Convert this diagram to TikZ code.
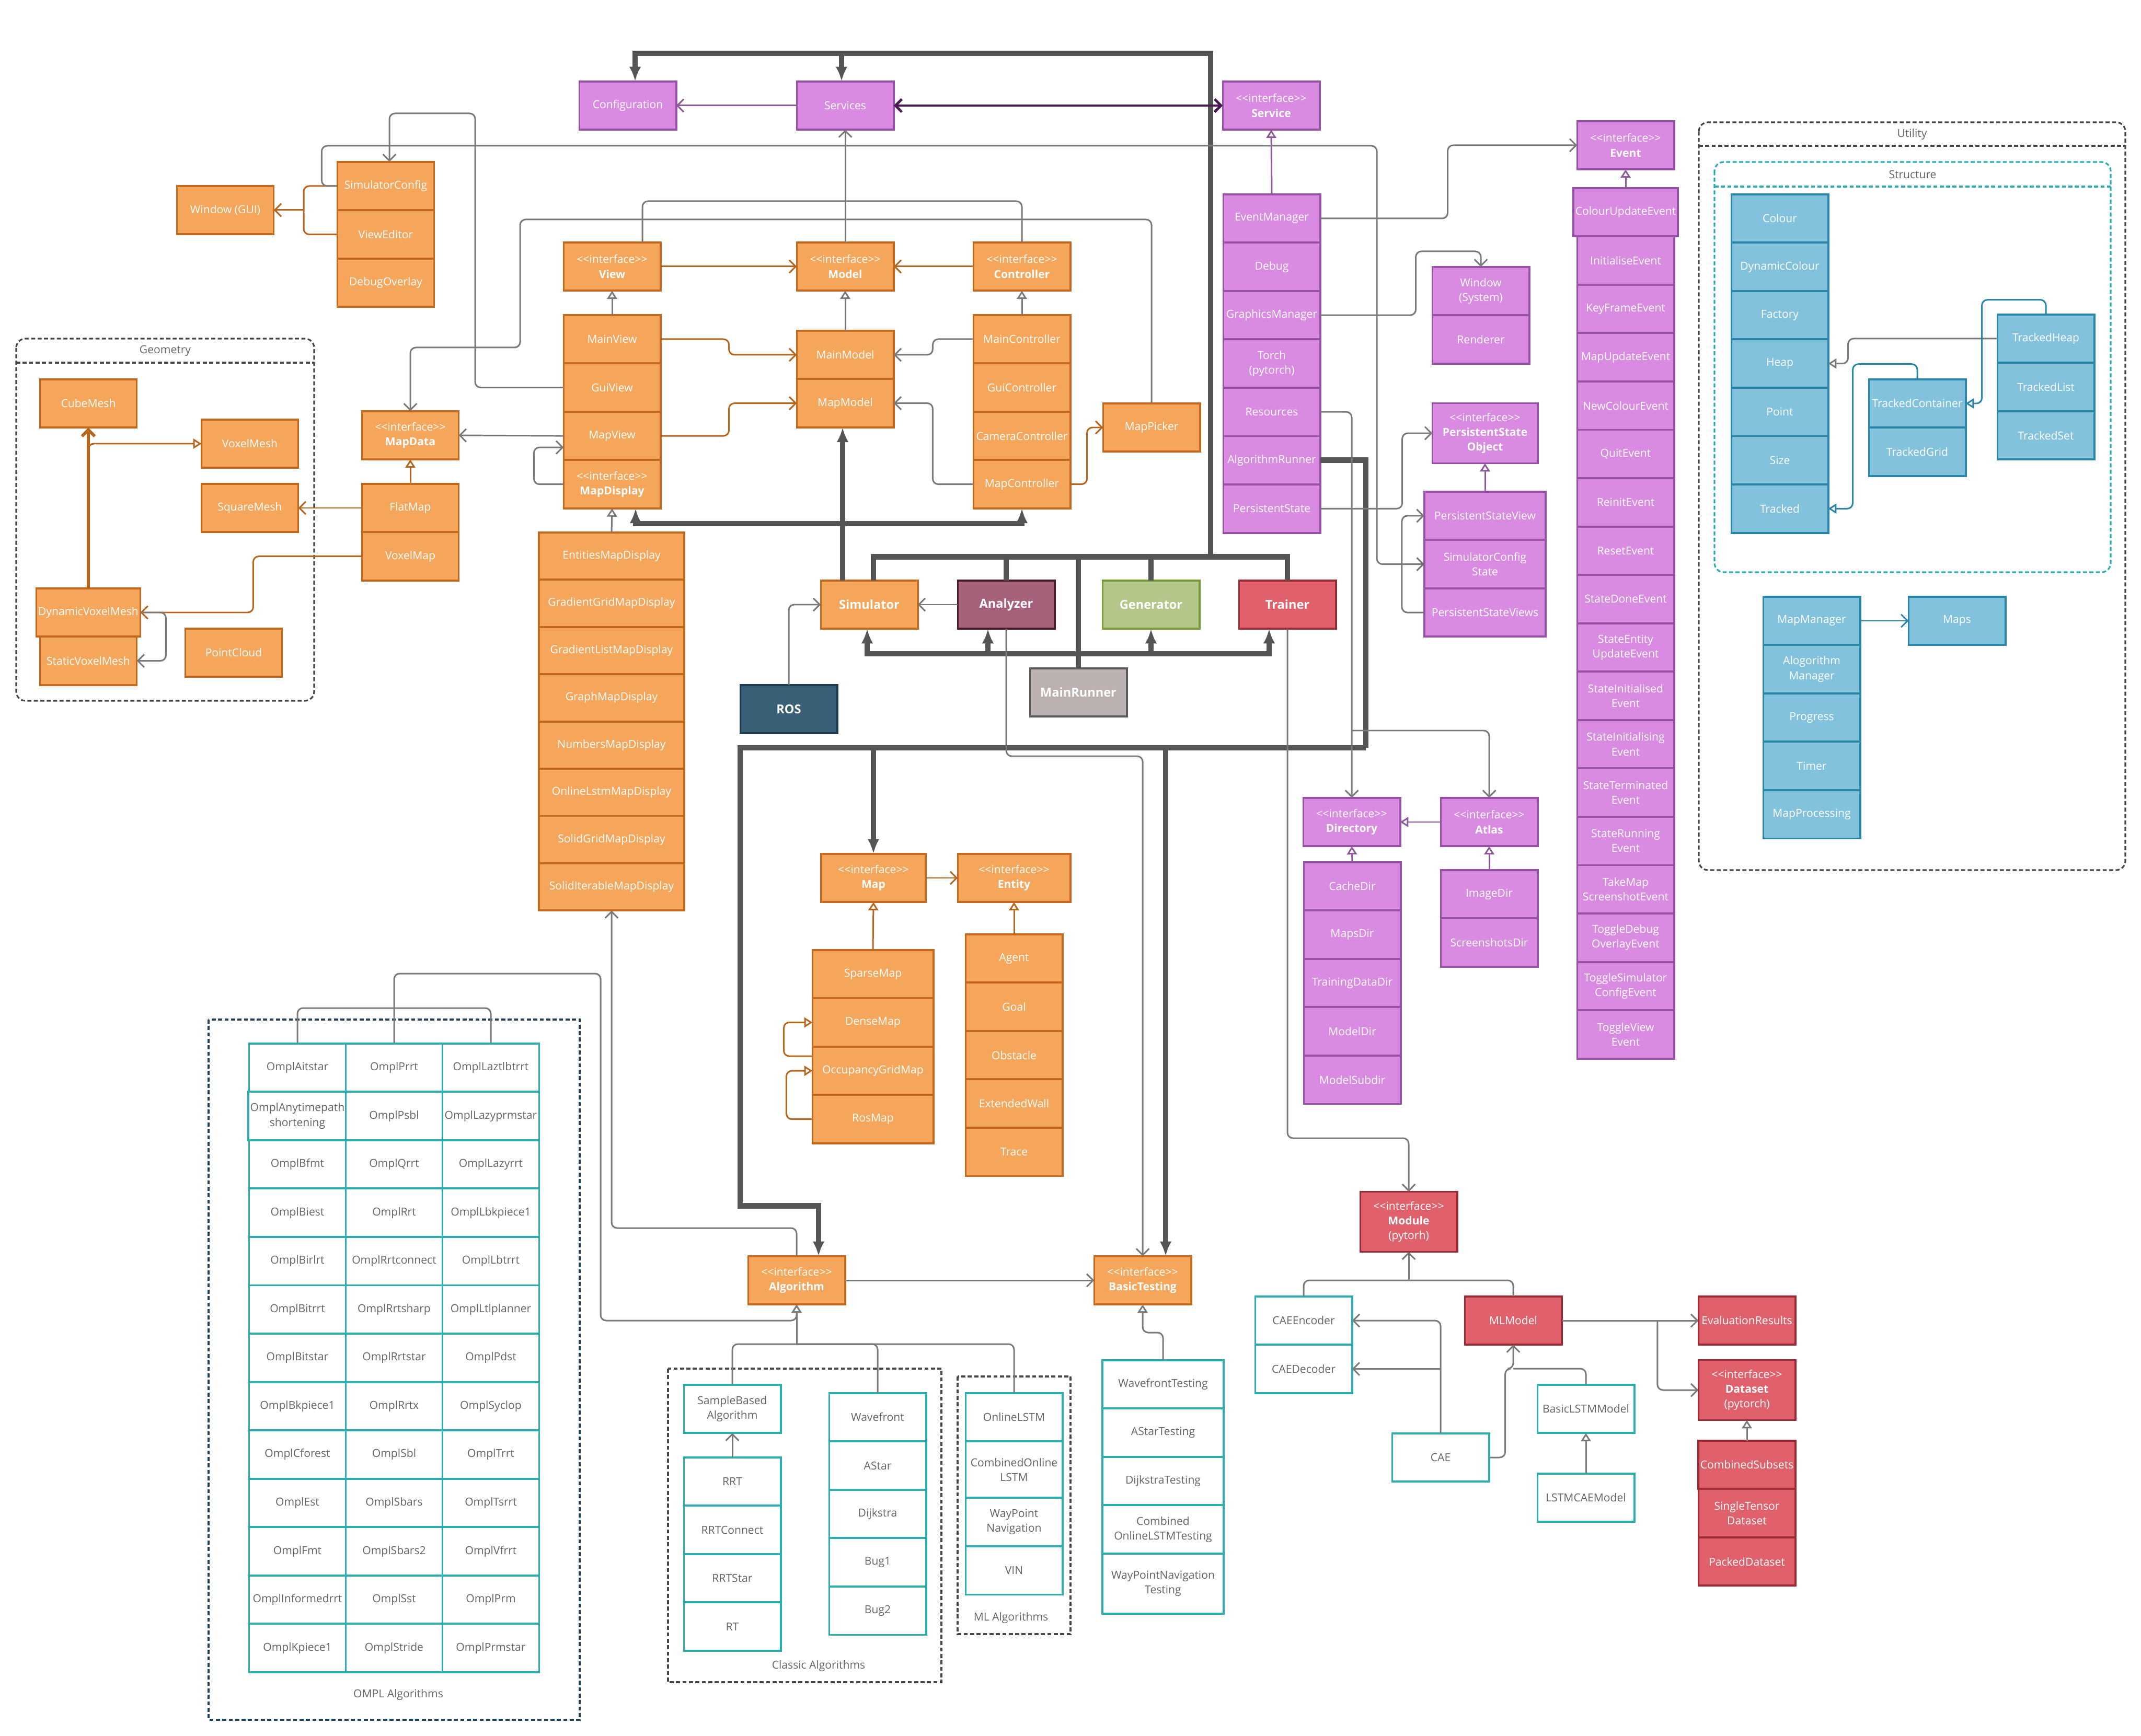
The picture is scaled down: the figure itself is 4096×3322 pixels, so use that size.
\documentclass[tikz,border=0pt]{standalone}
\usepackage{fontspec}
\setmainfont{Open Sans}
\usetikzlibrary{positioning, calc, arrows.meta}
\definecolor{clOrange}  {RGB}{245,166, 91}
\definecolor{clOrangeBd}{RGB}{196,104, 30}
\definecolor{clPurple}  {RGB}{216,139,224}
\definecolor{clPurpleBd}{RGB}{150, 80,165}
\definecolor{clBlue}    {RGB}{130,194,220}
\definecolor{clBlueBd}  {RGB}{ 42,134,168}
\definecolor{clRed}     {RGB}{224, 97,108}
\definecolor{clRedBd}   {RGB}{155, 42, 53}
\definecolor{clTeal}    {RGB}{ 42,174,176}
\definecolor{clPlum}    {RGB}{165, 96,122}
\definecolor{clPlumBd}  {RGB}{ 74, 26, 42}
\definecolor{clSage}    {RGB}{179,199,138}
\definecolor{clSageBd}  {RGB}{122,154, 58}
\definecolor{clStone}   {RGB}{187,177,177}
\definecolor{clStoneBd} {RGB}{ 90, 90, 90}
\definecolor{clNavy}    {RGB}{ 58, 96,120}
\definecolor{clNavyBd}  {RGB}{ 31, 58, 80}
\definecolor{clLine}    {RGB}{122,122,122}
\definecolor{clBus}     {RGB}{ 85, 85, 85}
\definecolor{clOrLine}  {RGB}{184,101, 30}
\definecolor{clPuLine}  {RGB}{142, 90,156}
\definecolor{clPuDark}  {RGB}{ 74, 26, 80}
\definecolor{clText}    {RGB}{100,100,100}
\definecolor{clGrpBd}   {RGB}{ 70, 70, 70}
\definecolor{clOmplBd}  {RGB}{ 31, 63, 95}
\newcommand{\cellfont}{\fontsize{6pt}{8pt}\selectfont}
\newcommand{\bigfont}{\fontsize{6.7pt}{8pt}\selectfont\bfseries}
\newcommand{\iface}[1]{<\kern0pt<interface>\kern0pt>\\\textbf{#1}}
\tikzset{
  cell/.style={
    rectangle, draw, line width=1.1pt, align=center, font=\cellfont,
    minimum width=1.85cm, minimum height=0.925cm,
    inner sep=1pt, outer sep=0pt, text=white
  },
  orbox/.style={cell, fill=clOrange, draw=clOrangeBd},
  pubox/.style={cell, fill=clPurple, draw=clPurpleBd},
  blbox/.style={cell, fill=clBlue, draw=clBlueBd},
  rdbox/.style={cell, fill=clRed, draw=clRedBd},
  tlbox/.style={cell, fill=white, draw=clTeal, text=clText},
  bigbox/.style={cell, font=\bigfont},
  grp/.style={draw=clGrpBd, line width=0.9pt, dash pattern=on 2.2pt off 1.3pt},
  grplbl/.style={font=\cellfont, text=clText, inner sep=0pt},
  ln/.style={line width=0.85pt, draw=clLine, rounded corners=3pt},
  assoc/.style={ln, -{Straight Barb[length=3.5pt, width=7pt]}},
  inherit/.style={ln, -{Triangle[length=4.5pt, width=5.5pt, fill=white]}},
  orln/.style={ln, draw=clOrLine},
  orassoc/.style={orln, -{Straight Barb[length=3.5pt, width=7pt]}},
  orinherit/.style={orln, -{Triangle[length=4.5pt, width=5.5pt, fill=white]}},
  puassoc/.style={ln, draw=clPuLine, -{Straight Barb[length=3.5pt, width=7pt]}},
  puinherit/.style={ln, draw=clPuLine, -{Triangle[length=4.5pt, width=5.5pt, fill=white]}},
  pubiarr/.style={ln, draw=clPuDark, line width=1.4pt,
    {Straight Barb[length=3.5pt, width=7pt]}-{Straight Barb[length=3.5pt, width=7pt]}},
  blassoc/.style={ln, draw=clBlueBd, -{Straight Barb[length=3.5pt, width=7pt]}},
  blinherit/.style={ln, draw=clBlueBd, -{Triangle[length=4.5pt, width=5.5pt, fill=white]}},
  bus/.style={line width=3pt, draw=clBus},
  busarr/.style={bus, -{Latex[length=8pt, width=6.5pt]}}
}
\begin{document}
\begin{tikzpicture}[x=0.01cm, y=-0.01cm, node distance=0pt]
\useasboundingbox (0,0) rectangle (4096,3322);

    % ============================================================
    % GROUP FRAMES
    % ============================================================
    \draw [grp, rounded corners=5pt] (31,648) rectangle (601,1341);
    \draw [grp] (31,694) -- (601,694);
    \node (geolbl) [grplbl] at (316,671) {Geometry};

    \draw [grp, rounded corners=5pt] (3250,234) rectangle (4066,1665);
    \draw [grp] (3250,279) -- (4066,279);
    \node (utillbl) [grplbl] at (3658,257) {Utility};

    \draw [grp, draw=clTeal, rounded corners=5pt] (3280,310) rectangle (4038,1095);
    \draw [grp, draw=clTeal] (3280,357) -- (4038,357);
    \node (structlbl) [grplbl] at (3659,334) {Structure};

    \draw [grp, draw=clOmplBd] (399,1951) rectangle (1109,3291);
    \node (ompllbl) [grplbl] at (762,3243) {OMPL Algorithms};

    \draw [grp] (1278,2619) rectangle (1801,3219);
    \node (classiclbl) [grplbl] at (1566,3188) {Classic Algorithms};

    \draw [grp] (1832,2634) rectangle (2048,3127);
    \node (mllbl) [grplbl] at (1934,3096) {ML Algorithms};

    % ============================================================
    % SERVICES (TOP ROW AND PURPLE COLUMNS)
    % ============================================================
    \node (config) [pubox] at (1201,202) {Configuration};
    \node (services) [pubox] at (1617,202) {Services};
    \node (service) [pubox] at (2432,202) {\iface{Service}};

    \node (evmgr) [pubox] at (2433,418) {EventManager};
    \node (debug) [pubox, below=of evmgr] {Debug};
    \node (gfxmgr) [pubox, below=of debug] {GraphicsManager};
    \node (torch) [pubox, below=of gfxmgr] {Torch\\(pytorch)};
    \node (resources) [pubox, below=of torch] {Resources};
    \node (algrun) [pubox, below=of resources] {AlgorithmRunner};
    \node (pstate) [pubox, below=of algrun] {PersistentState};

    \node (winsys) [pubox] at (2833,557) {Window\\(System)};
    \node (renderer) [pubox, below=of winsys] {Renderer};

    \node (pso) [pubox, minimum width=2.01cm, minimum height=1.15cm] at (2841,829) {%
      <\kern0pt<interface>\kern0pt>\\\textbf{PersistentState}\\\textbf{Object}};
    \node (psview) [pubox, minimum width=2.32cm] at (2841,987) {PersistentStateView};
    \node (scstate) [pubox, minimum width=2.32cm, below=of psview] {SimulatorConfig\\State};
    \node (psviews) [pubox, minimum width=2.32cm, below=of scstate] {PersistentStateViews};

    \node (dir) [pubox] at (2586,1573) {\iface{Directory}};
    \node (atlas) [pubox] at (2849,1573) {\iface{Atlas}};
    \node (cachedir) [pubox] at (2587,1696) {CacheDir};
    \node (mapsdir) [pubox, below=of cachedir] {MapsDir};
    \node (traindir) [pubox, below=of mapsdir] {TrainingDataDir};
    \node (modeldir) [pubox, below=of traindir] {ModelDir};
    \node (modelsub) [pubox, below=of modeldir] {ModelSubdir};
    \node (imagedir) [pubox] at (2849,1711) {ImageDir};
    \node (shotsdir) [pubox, below=of imagedir] {ScreenshotsDir};

    % ============================================================
    % EVENTS
    % ============================================================
    \node (event) [pubox] at (3110,278) {\iface{Event}};
    \node (ev1) [pubox] at (3110,406) {ColourUpdateEvent};
    \node (ev2) [pubox, below=of ev1] {InitialiseEvent};
    \node (ev3) [pubox, below=of ev2] {KeyFrameEvent};
    \node (ev4) [pubox, below=of ev3] {MapUpdateEvent};
    \node (ev5) [pubox, below=of ev4] {NewColourEvent};
    \node (ev6) [pubox, below=of ev5] {QuitEvent};
    \node (ev7) [pubox, below=of ev6] {ReinitEvent};
    \node (ev8) [pubox, below=of ev7] {ResetEvent};
    \node (ev9) [pubox, below=of ev8] {StateDoneEvent};
    \node (ev10) [pubox, below=of ev9] {StateEntity\\UpdateEvent};
    \node (ev11) [pubox, below=of ev10] {StateInitialised\\Event};
    \node (ev12) [pubox, below=of ev11] {StateInitialising\\Event};
    \node (ev13) [pubox, below=of ev12] {StateTerminated\\Event};
    \node (ev14) [pubox, below=of ev13] {StateRunning\\Event};
    \node (ev15) [pubox, below=of ev14] {TakeMap\\ScreenshotEvent};
    \node (ev16) [pubox, below=of ev15] {ToggleDebug\\OverlayEvent};
    \node (ev17) [pubox, below=of ev16] {ToggleSimulator\\ConfigEvent};
    \node (ev18) [pubox, below=of ev17] {ToggleView\\Event};

    % ============================================================
    % UTILITY
    % ============================================================
    \node (colour) [blbox] at (3405,418) {Colour};
    \node (dyncolour) [blbox, below=of colour] {DynamicColour};
    \node (factory) [blbox, below=of dyncolour] {Factory};
    \node (heap) [blbox, below=of factory] {Heap};
    \node (point) [blbox, below=of heap] {Point};
    \node (size) [blbox, below=of point] {Size};
    \node (tracked) [blbox, below=of size] {Tracked};

    \node (tcont) [blbox] at (3668,772) {TrackedContainer};
    \node (tgrid) [blbox, below=of tcont] {TrackedGrid};
    \node (theap) [blbox] at (3914,648) {TrackedHeap};
    \node (tlist) [blbox, below=of theap] {TrackedList};
    \node (tset) [blbox, below=of tlist] {TrackedSet};

    \node (mapmgr) [blbox] at (3466,1188) {MapManager};
    \node (algmgr) [blbox, below=of mapmgr] {Alogorithm\\Manager};
    \node (progress) [blbox, below=of algmgr] {Progress};
    \node (timer) [blbox, below=of progress] {Timer};
    \node (mapproc) [blbox, below=of timer] {MapProcessing};
    \node (maps) [blbox] at (3744,1188) {Maps};

    % ============================================================
    % GUI, VIEW / MODEL / CONTROLLER
    % ============================================================
    \node (win) [orbox] at (431,402) {Window (GUI)};
    \node (simcfg) [orbox] at (738,356) {SimulatorConfig};
    \node (vedit) [orbox, below=of simcfg] {ViewEditor};
    \node (dbgov) [orbox, below=of vedit] {DebugOverlay};

    \node (view) [orbox] at (1171,510) {\iface{View}};
    \node (model) [orbox] at (1617,510) {\iface{Model}};
    \node (ctrl) [orbox] at (1955,510) {\iface{Controller}};

    \node (mainview) [orbox] at (1171,649) {MainView};
    \node (guiview) [orbox, below=of mainview] {GuiView};
    \node (mapview) [orbox, below=of guiview] {MapView};
    \node (mapdisp) [orbox, below=of mapview] {\iface{MapDisplay}};

    \node (mainmodel) [orbox] at (1617,679) {MainModel};
    \node (mapmodel) [orbox, below=of mainmodel] {MapModel};

    \node (mainctrl) [orbox] at (1955,649) {MainController};
    \node (guictrl) [orbox, below=of mainctrl] {GuiController};
    \node (camctrl) [orbox, below=of guictrl] {CameraController};
    \node (mapctrl) [orbox, below=of camctrl] {MapController};
    \node (mappicker) [orbox] at (2203,818) {MapPicker};

    \node (mapdata) [orbox] at (785,833) {\iface{MapData}};
    \node (flatmap) [orbox] at (785,972) {FlatMap};
    \node (voxelmap) [orbox, below=of flatmap] {VoxelMap};

    \node (entities) [orbox, minimum width=2.77cm, minimum height=0.904cm] at (1170,1064) {EntitiesMapDisplay};
    \node (gradgrid) [orbox, minimum width=2.77cm, minimum height=0.904cm, below=of entities] {GradientGridMapDisplay};
    \node (gradlist) [orbox, minimum width=2.77cm, minimum height=0.904cm, below=of gradgrid] {GradientListMapDisplay};
    \node (graphmd) [orbox, minimum width=2.77cm, minimum height=0.904cm, below=of gradlist] {GraphMapDisplay};
    \node (numbers) [orbox, minimum width=2.77cm, minimum height=0.904cm, below=of graphmd] {NumbersMapDisplay};
    \node (onlinemd) [orbox, minimum width=2.77cm, minimum height=0.904cm, below=of numbers] {OnlineLstmMapDisplay};
    \node (solidgrid) [orbox, minimum width=2.77cm, minimum height=0.904cm, below=of onlinemd] {SolidGridMapDisplay};
    \node (soliditer) [orbox, minimum width=2.77cm, minimum height=0.904cm, below=of solidgrid] {SolidIterableMapDisplay};

    % geometry
    \node (cubemesh) [orbox] at (169,772) {CubeMesh};
    \node (voxelmesh) [orbox] at (478,849) {VoxelMesh};
    \node (squaremesh) [orbox] at (478,972) {SquareMesh};
    \node (dynvox) [orbox] at (169,1172) {DynamicVoxelMesh};
    \node (statvox) [orbox, below=of dynvox] {StaticVoxelMesh};
    \node (pointcloud) [orbox] at (447,1249) {PointCloud};

    % ============================================================
    % RUNNERS
    % ============================================================
    \node (sim) [bigbox, fill=clOrange, draw=clOrangeBd] at (1663,1157) {Simulator};
    \node (analyzer) [bigbox, fill=clPlum, draw=clPlumBd] at (1925,1157) {Analyzer};
    \node (generator) [bigbox, fill=clSage, draw=clSageBd] at (2202,1157) {Generator};
    \node (trainer) [bigbox, fill=clRed, draw=clRedBd] at (2463,1157) {Trainer};
    \node (ros) [bigbox, fill=clNavy, draw=clNavyBd] at (1509,1357) {ROS};
    \node (mainrunner) [bigbox, fill=clStone, draw=clStoneBd] at (2063,1325) {MainRunner};

    % ============================================================
    % MAP AND ENTITIES
    % ============================================================
    \node (mapif) [orbox, minimum width=2.0cm] at (1671,1680) {\iface{Map}};
    \node (entity) [orbox, minimum width=2.15cm] at (1940,1680) {\iface{Entity}};
    \node (sparsemap) [orbox, minimum width=2.31cm] at (1670,1864) {SparseMap};
    \node (densemap) [orbox, minimum width=2.31cm, below=of sparsemap] {DenseMap};
    \node (occgrid) [orbox, minimum width=2.31cm, below=of densemap] {OccupancyGridMap};
    \node (rosmap) [orbox, minimum width=2.31cm, below=of occgrid] {RosMap};
    \node (agent) [orbox] at (1940,1834) {Agent};
    \node (goal) [orbox, below=of agent] {Goal};
    \node (obstacle) [orbox, below=of goal] {Obstacle};
    \node (extwall) [orbox, below=of obstacle] {ExtendedWall};
    \node (trace) [orbox, below=of extwall] {Trace};

    % ============================================================
    % ALGORITHMS AND TESTING
    % ============================================================
    \node (algo) [orbox] at (1524,2450) {\iface{Algorithm}};
    \node (btest) [orbox] at (2186,2450) {\iface{BasicTesting}};

    \node (oa1) [tlbox] at (569,2043) {OmplAitstar};
    \node (oa2) [tlbox, below=of oa1] {OmplAnytimepath\\shortening};
    \node (oa3) [tlbox, below=of oa2] {OmplBfmt};
    \node (oa4) [tlbox, below=of oa3] {OmplBiest};
    \node (oa5) [tlbox, below=of oa4] {OmplBirlrt};
    \node (oa6) [tlbox, below=of oa5] {OmplBitrrt};
    \node (oa7) [tlbox, below=of oa6] {OmplBitstar};
    \node (oa8) [tlbox, below=of oa7] {OmplBkpiece1};
    \node (oa9) [tlbox, below=of oa8] {OmplCforest};
    \node (oa10) [tlbox, below=of oa9] {OmplEst};
    \node (oa11) [tlbox, below=of oa10] {OmplFmt};
    \node (oa12) [tlbox, below=of oa11] {OmplInformedrrt};
    \node (oa13) [tlbox, below=of oa12] {OmplKpiece1};

    \node (ob1) [tlbox] at (754,2043) {OmplPrrt};
    \node (ob2) [tlbox, below=of ob1] {OmplPsbl};
    \node (ob3) [tlbox, below=of ob2] {OmplQrrt};
    \node (ob4) [tlbox, below=of ob3] {OmplRrt};
    \node (ob5) [tlbox, below=of ob4] {OmplRrtconnect};
    \node (ob6) [tlbox, below=of ob5] {OmplRrtsharp};
    \node (ob7) [tlbox, below=of ob6] {OmplRrtstar};
    \node (ob8) [tlbox, below=of ob7] {OmplRrtx};
    \node (ob9) [tlbox, below=of ob8] {OmplSbl};
    \node (ob10) [tlbox, below=of ob9] {OmplSbars};
    \node (ob11) [tlbox, below=of ob10] {OmplSbars2};
    \node (ob12) [tlbox, below=of ob11] {OmplSst};
    \node (ob13) [tlbox, below=of ob12] {OmplStride};

    \node (oc1) [tlbox] at (939,2043) {OmplLaztlbtrrt};
    \node (oc2) [tlbox, below=of oc1] {OmplLazyprmstar};
    \node (oc3) [tlbox, below=of oc2] {OmplLazyrrt};
    \node (oc4) [tlbox, below=of oc3] {OmplLbkpiece1};
    \node (oc5) [tlbox, below=of oc4] {OmplLbtrrt};
    \node (oc6) [tlbox, below=of oc5] {OmplLtlplanner};
    \node (oc7) [tlbox, below=of oc6] {OmplPdst};
    \node (oc8) [tlbox, below=of oc7] {OmplSyclop};
    \node (oc9) [tlbox, below=of oc8] {OmplTrrt};
    \node (oc10) [tlbox, below=of oc9] {OmplTsrrt};
    \node (oc11) [tlbox, below=of oc10] {OmplVfrrt};
    \node (oc12) [tlbox, below=of oc11] {OmplPrm};
    \node (oc13) [tlbox, below=of oc12] {OmplPrmstar};

    \node (sba) [tlbox] at (1401,2696) {SampleBased\\Algorithm};
    \node (rrt) [tlbox] at (1401,2835) {RRT};
    \node (rrtconn) [tlbox, below=of rrt] {RRTConnect};
    \node (rrtstar) [tlbox, below=of rrtconn] {RRTStar};
    \node (rt) [tlbox, below=of rrtstar] {RT};

    \node (wavefront) [tlbox] at (1679,2712) {Wavefront};
    \node (astar) [tlbox, below=of wavefront] {AStar};
    \node (dijkstra) [tlbox, below=of astar] {Dijkstra};
    \node (bug1) [tlbox, below=of dijkstra] {Bug1};
    \node (bug2) [tlbox, below=of bug1] {Bug2};

    \node (onlinelstm) [tlbox] at (1940,2712) {OnlineLSTM};
    \node (combolstm) [tlbox, minimum height=1.08cm, below=of onlinelstm] {CombinedOnline\\LSTM};
    \node (waypoint) [tlbox, below=of combolstm] {WayPoint\\Navigation};
    \node (vin) [tlbox, below=of waypoint] {VIN};

    \node (wftest) [tlbox, minimum width=2.32cm] at (2225,2649) {WavefrontTesting};
    \node (astartest) [tlbox, minimum width=2.32cm, below=of wftest] {AStarTesting};
    \node (dijtest) [tlbox, minimum width=2.32cm, below=of astartest] {DijkstraTesting};
    \node (combtest) [tlbox, minimum width=2.32cm, below=of dijtest] {Combined\\OnlineLSTMTesting};
    \node (wptest) [tlbox, minimum width=2.32cm, minimum height=1.15cm, below=of combtest] {WayPointNavigation\\Testing};

    % ============================================================
    % ML MODELS
    % ============================================================
    \node (module) [rdbox, minimum height=1.15cm] at (2695,2338) {\iface{Module}\\(pytorh)};
    \node (caeenc) [tlbox] at (2494,2527) {CAEEncoder};
    \node (caedec) [tlbox, below=of caeenc] {CAEDecoder};
    \node (mlmodel) [rdbox] at (2895,2527) {MLModel};
    \node (cae) [tlbox] at (2756,2789) {CAE};
    \node (basiclstm) [tlbox] at (3034,2696) {BasicLSTMModel};
    \node (lstmcae) [tlbox] at (3034,2866) {LSTMCAEModel};
    \node (evalres) [rdbox] at (3342,2527) {EvaluationResults};
    \node (dataset) [rdbox, minimum height=1.15cm] at (3342,2660) {\iface{Dataset}\\(pytorch)};
    \node (combsub) [rdbox] at (3342,2803) {CombinedSubsets};
    \node (singlet) [rdbox, below=of combsub] {SingleTensor\\Dataset};
    \node (packed) [rdbox, below=of singlet] {PackedDataset};

    % ============================================================
    % CONNECTIONS
    % ============================================================
    % thick runner buses
    \coordinate (busup) at (2316,1065);
    \coordinate (bustop) at (2316,102);
    \coordinate (buslow) at (2063,1251);
    \coordinate (simbus) at (1612,1002);
    \coordinate (runbus) at (2613,1431);
    \draw [bus] ($(sim.north)+(8,0)$) -- ++(0,-45) -| (trainer.north);
    \draw [bus] (analyzer.north) -- ++(0,-45);
    \draw [bus] (generator.north) -- ++(0,-45);
    \draw [bus] (mainrunner.north) |- (busup);
    \draw [busarr] (busup) -- (bustop) -| ($(config.north)+(14,0)$);
    \draw [busarr] ($(bustop -| services.north)+(-7,0)$) -- ($(services.north)+(-7,0)$);
    \draw [busarr] (buslow) -| ($(sim.south)+(-4,0)$);
    \draw [busarr] (buslow) -| ($(analyzer.south)+(-35,0)$);
    \draw [busarr] (buslow) -| (generator.south);
    \draw [busarr] (buslow) -| ($(trainer.south)+(-35,0)$);
    \draw [busarr] ($(sim.north)+(-51,0)$) -- ($(mapmodel.south)+(-5,0)$);
    \draw [busarr] (simbus) -| ($(mapdisp.south)+(45,0)$);
    \draw [busarr] (simbus) -| (mapctrl.south);
    \draw [bus] (algrun.east) -| (runbus);
    \draw [busarr] (runbus) -- (1416,1431) |- ($(algo.north)+(42,-96)$) -- ($(algo.north)+(42,0)$);
    \draw [busarr] (runbus -| mapif.north) -- (mapif.north);
    \draw [busarr] ($(btest.north)+(44,-972)$) -- ($(btest.north)+(44,0)$);

    % top services
    \draw [puassoc] (services.west) -- (config.east);
    \draw [pubiarr] (services.east) -- (service.west);
    \draw [puinherit] (evmgr.north) -- (service.south);
    \draw [assoc] (model.north) -- (services.south);
    \draw [ln] ($(view.north)+(58,0)$) |- (ctrl.north |- 0,385) -- (ctrl.north);

    % gui and config
    \coordinate (winjoin) at (581,402);
    \draw [orln] (simcfg.west) -| (winjoin);
    \draw [orln] (vedit.west) -| (winjoin);
    \draw [orassoc] (winjoin) -- (win.east);
    \draw [assoc] (simcfg.west) -- ++(-30,0) |- (2634,279) |- (scstate.west);
    \draw [assoc] (guiview.west) -| (909,217) -| ($(simcfg.north)+(7,0)$);
    \draw [assoc] (mappicker.north) |- (995,420) |- (mapdata.north |- 0,665) -- (mapdata.north);

    % view / model / controller
    \draw [orassoc] (view.east) -- (model.west);
    \draw [orassoc] (ctrl.west) -- (model.east);
    \draw [inherit] (mainview.north) -- (view.south);
    \draw [inherit] (mainmodel.north) -- (model.south);
    \draw [inherit] (mainctrl.north) -- (ctrl.south);
    \draw [orassoc] (mainview.east) -- ++(131,0) |- (mainmodel.west);
    \draw [orassoc] (mapview.east) -- ++(131,0) |- (mapmodel.west);
    \draw [assoc] (mainctrl.west) -- ++(-78,0) |- (mainmodel.east);
    \draw [assoc] (mapctrl.west) -- ++(-78,0) |- (mapmodel.east);
    \draw [orassoc] (mapctrl.east) -- ++(32,0) |- (mappicker.west);
    \draw [assoc] (mapdisp.west) -- ++(-57,0) |- ($(mapview.west)+(0,22)$);
    \draw [assoc] (mapview.west) -- (mapdata.east);
    \draw [inherit] (entities.north) -- (mapdisp.south);
    \draw [orinherit] (flatmap.north) -- (mapdata.south);

    % geometry
    \draw [orassoc, line width=1.7pt] (dynvox.north) -- (cubemesh.south);
    \draw [orinherit] (dynvox.north) |- (voxelmesh.west);
    \draw [orassoc] (flatmap.west) -- (squaremesh.east);
    \draw [orassoc] (voxelmap.west) -| ($(dynvox.east)+(216,0)$) -- (dynvox.east);
    \draw [assoc] (dynvox.east) -- ++(49,0) |- (statvox.east);

    % runners
    \draw [assoc] (ros.north) |- (sim.west);
    \draw [assoc] (analyzer.west) -- (sim.east);
    \draw [assoc] (analyzer.south) |- (btest.north |- 0,1447) -- (btest.north);
    \draw [assoc] (trainer.south) |- (module.north |- 0,2178) -- (module.north);

    % purple services
    \draw [assoc] (evmgr.east) -- ++(244,0) |- (event.west);
    \draw [assoc] (gfxmgr.east) -- ++(183,0) |- (winsys.north |- 0,481) -- (winsys.north);
    \draw [assoc] (resources.east) -| (dir.north);
    \draw [assoc] (dir.north |- 0,1398) -| (atlas.north);
    \draw [assoc] (pstate.east) -- ++(157,0) |- (pso.west);
    \draw [puinherit] (psview.north) -- (pso.south);
    \draw [assoc] (psviews.west) -- ++(-43,0) |- (psview.west);
    \draw [puinherit] (ev1.north) -- (event.south);
    \draw [puinherit] (atlas.west) -- (dir.east);
    \draw [puinherit] (cachedir.north) -- (dir.south);
    \draw [puinherit] (imagedir.north) -- (atlas.south);

    % utility
    \draw [inherit] (theap.west) -| ($(heap.east)+(38,0)$) -- (heap.east);
    \draw [blinherit] (tcont.north) -- ++(0,-29) -| ($(tracked.east)+(47,0)$) -- (tracked.east);
    \draw [blinherit] (theap.north) -- ++(0,-28) -| ($(tcont.east)+(31,0)$) -- (tcont.east);
    \draw [blassoc] (mapmgr.east) -- (maps.west);

    % map and entities
    \draw [orassoc] (mapif.east) -- (entity.west);
    \draw [orinherit] (sparsemap.north) -- (mapif.south);
    \draw [orinherit] (agent.north) -- (entity.south);
    \draw [orinherit] ($(occgrid.west)+(0,-28)$) -- ++(-55,0) |- (densemap.west);
    \draw [orinherit] (rosmap.west) -- ++(-50,0) |- (occgrid.west);

    % algorithms
    \coordinate (algjoin) at (1524,2572);
    \draw [assoc] (algo.north) |- (soliditer.south |- 0,2350) -- (soliditer.south);
    \draw [ln] (oa1.north) |- (oc1.north |- 0,1929) -- (oc1.north);
    \draw [inherit] (ob1.north) |- (1149,1863) |- (algo.south |- 0,2527) -- (algo.south);
    \draw [ln] (sba.north) |- (algjoin);
    \draw [ln] (wavefront.north) |- (algjoin);
    \draw [ln] (onlinelstm.north) |- (algjoin);
    \draw [inherit] (algjoin) -- (algo.south);
    \draw [assoc] (rrt.north) -- (sba.south);
    \draw [assoc] (algo.east) -- (btest.west);
    \draw [inherit] (wftest.north) |- (btest.south |- 0,2550) -- (btest.south);

    % ml models
    \coordinate (modjoin) at (2695,2450);
    \draw [ln] (caeenc.north) |- (modjoin);
    \draw [ln] (mlmodel.north) |- (modjoin);
    \draw [assoc] (modjoin) -- (module.south);
    \draw [assoc] (cae.north) |- (caeenc.east);
    \draw [assoc] (cae.north |- caedec.east) -- (caedec.east);
    \draw [assoc] (cae.east) -- ++(31,0) |- (mlmodel.south |- 0,2619) -- (mlmodel.south);
    \draw [ln] (basiclstm.north) |- (mlmodel.south |- 0,2619);
    \draw [inherit] (lstmcae.north) -- (basiclstm.south);
    \draw [assoc] (mlmodel.east) -- (evalres.west);
    \draw [assoc] ($(mlmodel.east)!0.7!(evalres.west)$) |- (dataset.west);
    \draw [inherit] (combsub.north) -- (dataset.south);

\end{tikzpicture}
\end{document}
